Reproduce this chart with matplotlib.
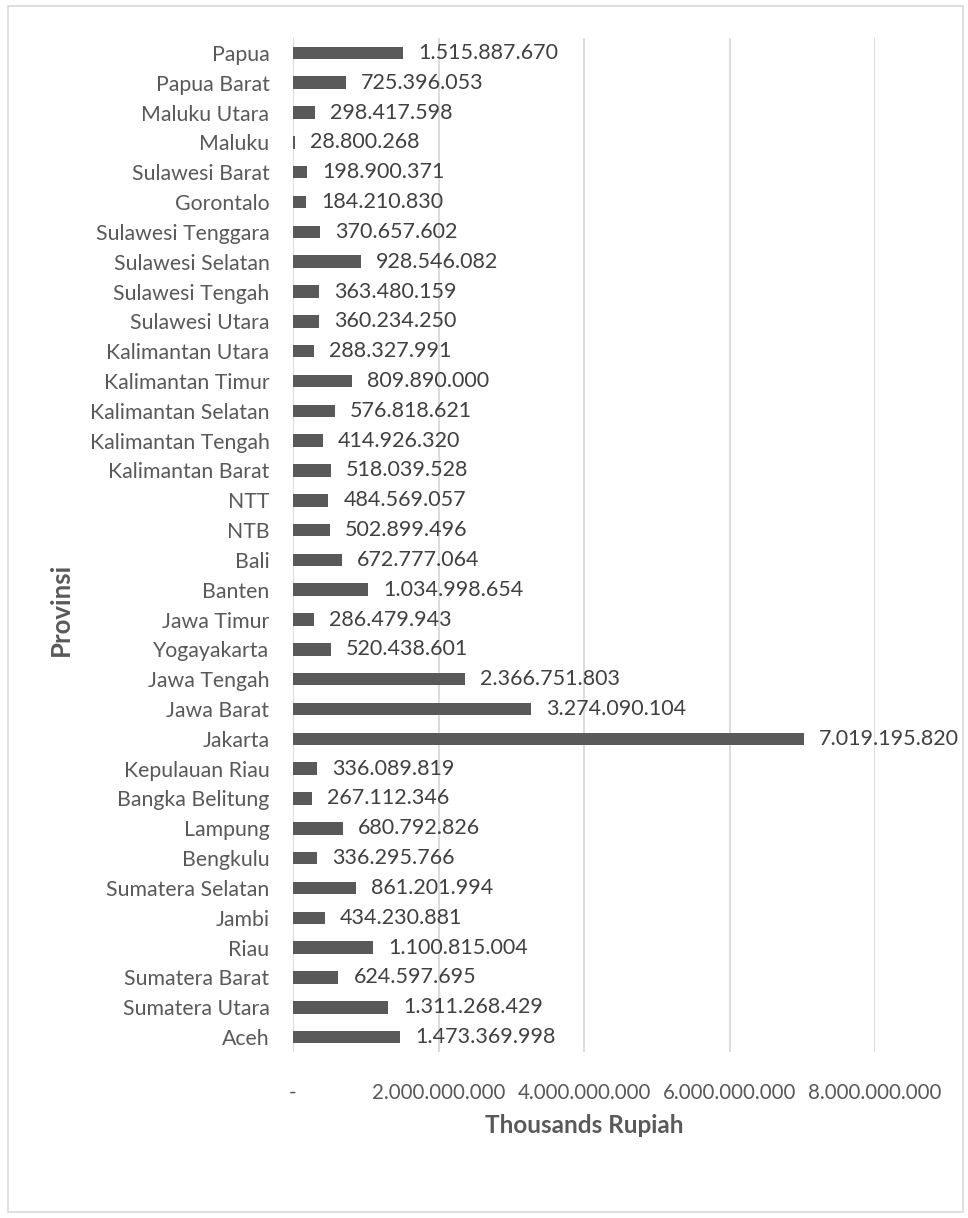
import matplotlib
matplotlib.use("Agg")
import matplotlib.pyplot as plt
from matplotlib.patches import Rectangle

provinces = ["Aceh", "Sumatera Utara", "Sumatera Barat", "Riau", "Jambi",
             "Sumatera Selatan", "Bengkulu", "Lampung", "Bangka Belitung",
             "Kepulauan Riau", "Jakarta", "Jawa Barat", "Jawa Tengah",
             "Yogayakarta", "Jawa Timur", "Banten", "Bali", "NTB", "NTT",
             "Kalimantan Barat", "Kalimantan Tengah", "Kalimantan Selatan",
             "Kalimantan Timur", "Kalimantan Utara", "Sulawesi Utara",
             "Sulawesi Tengah", "Sulawesi Selatan", "Sulawesi Tenggara",
             "Gorontalo", "Sulawesi Barat", "Maluku", "Maluku Utara",
             "Papua Barat", "Papua"]
values = [1473369998, 1311268429, 624597695, 1100815004, 434230881,
          861201994, 336295766, 680792826, 267112346,
          336089819, 7019195820, 3274090104, 2366751803,
          520438601, 286479943, 1034998654, 672777064, 502899496, 484569057,
          518039528, 414926320, 576818621,
          809890000, 288327991, 360234250,
          363480159, 928546082, 370657602,
          184210830, 198900371, 28800268, 298417598,
          725396053, 1515887670]
xticks = [0, 2e9, 4e9, 6e9, 8e9]
xtick_labels = ["-", "2.000.000.000", "4.000.000.000", "6.000.000.000", "8.000.000.000"]

def fmt(v):
    return f"{v:,}".replace(",", ".")

plt.rcParams['font.family'] = ['Lato', 'DejaVu Sans']
txt = "#595959"

fig = plt.figure(figsize=(9.68, 12.18), dpi=100)
W, H = 968, 1218
ax = fig.add_axes([293 / W, 1 - 1052 / H, (875 - 293) / W, (1052 - 38) / H])

y = list(range(len(provinces)))
ax.barh(y, values, height=0.42, color="#595959", zorder=3)
for yi, v in zip(y, values):
    ax.annotate(fmt(v), (v, yi), xytext=(15, 0), textcoords="offset pixels",
                va="center", ha="left", fontsize=15.5, color="#404040", zorder=4)

ax.set_xlim(0, 8e9)
ax.set_ylim(-0.5, len(provinces) - 0.5)
ax.set_yticks(y)
ax.set_yticklabels(provinces, fontsize=15.3, color=txt)
ax.set_xticks(xticks)
ax.set_xticklabels(xtick_labels, fontsize=14.8, color=txt)
ax.tick_params(axis="both", length=0)
ax.tick_params(axis="y", pad=17)
ax.tick_params(axis="x", pad=22)
ax.grid(axis="x", color="#d9d9d9", linewidth=1.3, zorder=0)
for s in ax.spines.values():
    s.set_visible(False)

ax.set_xlabel("Thousands Rupiah", fontsize=17.5, fontweight="bold", color=txt, labelpad=8)
ax.set_ylabel("Provinsi", fontsize=18.5, fontweight="bold", color=txt)
ax.yaxis.set_label_coords(73 / W, 0.5, transform=fig.transFigure)

fig.patches.append(Rectangle((8 / W, 6 / H), (963 - 8) / W, (1212 - 6) / H,
                             transform=fig.transFigure, fill=False,
                             edgecolor="#d9d9d9", linewidth=1.2))

fig.savefig("out.png", dpi=100)
